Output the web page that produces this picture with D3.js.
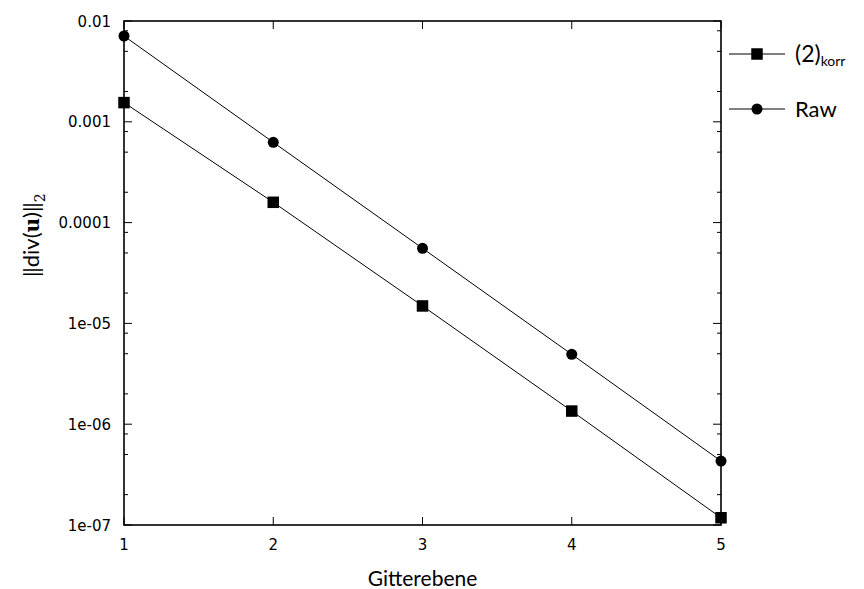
<!DOCTYPE html>
<html>
<head>
<meta charset="utf-8">
<script src="https://cdn.jsdelivr.net/npm/d3@7"></script>
<style>
  html, body { margin: 0; padding: 0; background: #fff; }
  svg { display: block; }
  .tick-label { font-family: "DejaVu Sans", sans-serif; font-size: 15px; }
  .tex { font-family: Lato, "Open Sans", sans-serif; }
</style>
</head>
<body>
<svg id="chart" width="864" height="589"></svg>
<script>
// ---- data ----
const levels = [1, 2, 3, 4, 5];
const korrValues = [1.55e-3, 1.59e-4, 1.49e-5, 1.35e-6, 1.18e-7];
const rawValues  = [7.1e-3, 6.26e-4, 5.56e-5, 4.93e-6, 4.31e-7];
const seriesNames = ["(2)", "Raw"];
const yTickValues = [1e-7, 1e-6, 1e-5, 1e-4, 1e-3, 1e-2];
const yTickLabels = ["1e-07", "1e-06", "1e-05", "0.0001", "0.001", "0.01"];
const xTickValues = [1, 2, 3, 4, 5];
const minorFactors = [2, 5, 8];

// ---- layout ----
const svg = d3.select("#chart");
const L = 124, R = 721, T = 21, B = 525;
const x = d3.scaleLinear().domain([1, 5]).range([L, R]);
const y = d3.scaleLog().domain([1e-7, 1e-2]).range([B, T]);

const g = svg.append("g");

// minor ticks
const minorVals = [];
for (let e = -7; e < -2; e++) minorFactors.forEach(f => minorVals.push(f * Math.pow(10, e)));

const tickColor = "#000";
[[L, 1], [R, -1]].forEach(([ax, dir]) => {
  g.selectAll(null).data(yTickValues).enter().append("line")
    .attr("x1", ax).attr("x2", ax + dir * 8)
    .attr("y1", d => y(d)).attr("y2", d => y(d))
    .attr("stroke", tickColor).attr("stroke-width", 1);
  g.selectAll(null).data(minorVals).enter().append("line")
    .attr("x1", ax).attr("x2", ax + dir * 4)
    .attr("y1", d => y(d)).attr("y2", d => y(d))
    .attr("stroke", tickColor).attr("stroke-width", 1);
});
[[B, -1], [T, 1]].forEach(([ay, dir]) => {
  g.selectAll(null).data(xTickValues).enter().append("line")
    .attr("x1", d => x(d)).attr("x2", d => x(d))
    .attr("y1", ay).attr("y2", ay + dir * 8)
    .attr("stroke", tickColor).attr("stroke-width", 1);
});

// frame
g.append("rect").attr("x", L).attr("y", T).attr("width", R - L).attr("height", B - T)
  .attr("fill", "none").attr("stroke", "#000").attr("stroke-width", 1.6);

// tick labels
g.selectAll(null).data(yTickValues).enter().append("text")
  .attr("class", "tick-label")
  .attr("x", L - 13).attr("y", d => y(d) + 5.5)
  .attr("text-anchor", "end")
  .text((d, i) => yTickLabels[i]);
g.selectAll(null).data(xTickValues).enter().append("text")
  .attr("class", "tick-label")
  .attr("x", d => x(d)).attr("y", B + 25)
  .attr("text-anchor", "middle")
  .text(d => d);

// lines
const line = d3.line().x((d, i) => x(levels[i])).y(d => y(d));
[korrValues, rawValues].forEach(vals => {
  g.append("path").attr("d", line(vals)).attr("fill", "none")
    .attr("stroke", "#000").attr("stroke-width", 1);
});

// markers
const sq = 11.5, cr = 5.5;
g.selectAll(null).data(korrValues).enter().append("rect")
  .attr("x", (d, i) => x(levels[i]) - sq / 2).attr("y", d => y(d) - sq / 2)
  .attr("width", sq).attr("height", sq).attr("fill", "#000");
g.selectAll(null).data(rawValues).enter().append("circle")
  .attr("cx", (d, i) => x(levels[i])).attr("cy", d => y(d)).attr("r", cr).attr("fill", "#000");

// axis titles
g.append("text").attr("class", "tex").attr("x", (L + R) / 2).attr("y", 586)
  .attr("text-anchor", "middle").attr("font-size", 21)
  .text("Gitterebene");

const yt = g.append("text").attr("class", "tex")
  .attr("transform", "translate(39, 277) rotate(-90)")
  .attr("text-anchor", "start").attr("font-size", 22);
yt.append("tspan").text("\u2016div(");
yt.append("tspan").style("font-family", "'DejaVu Serif', serif").attr("font-weight", "bold").attr("font-size", 20).text("u");
yt.append("tspan").text(")\u2016");
yt.append("tspan").style("font-family", "'DejaVu Serif', serif").attr("font-size", 14).attr("dy", 6).text("2");

// legend
const lx1 = 729, lx2 = 785, lmid = 757;
const legY = [54, 109];
legY.forEach((ly, i) => {
  g.append("line").attr("x1", lx1).attr("x2", lx2).attr("y1", ly).attr("y2", ly)
    .attr("stroke", "#000").attr("stroke-width", 1);
  if (i === 0) {
    g.append("rect").attr("x", lmid - sq / 2).attr("y", ly - sq / 2).attr("width", sq).attr("height", sq).attr("fill", "#000");
  } else {
    g.append("circle").attr("cx", lmid).attr("cy", ly).attr("r", cr).attr("fill", "#000");
  }
});
const t1 = g.append("text").attr("class", "tex").attr("x", 795).attr("y", legY[0] + 8)
  .attr("font-size", 23);
t1.append("tspan").text(seriesNames[0]);
t1.append("tspan").attr("font-size", 14).attr("dy", 4).text("korr");
g.append("text").attr("class", "tex").attr("x", 795).attr("y", legY[1] + 8)
  .attr("font-size", 22).text(seriesNames[1]);
</script>
</body>
</html>
